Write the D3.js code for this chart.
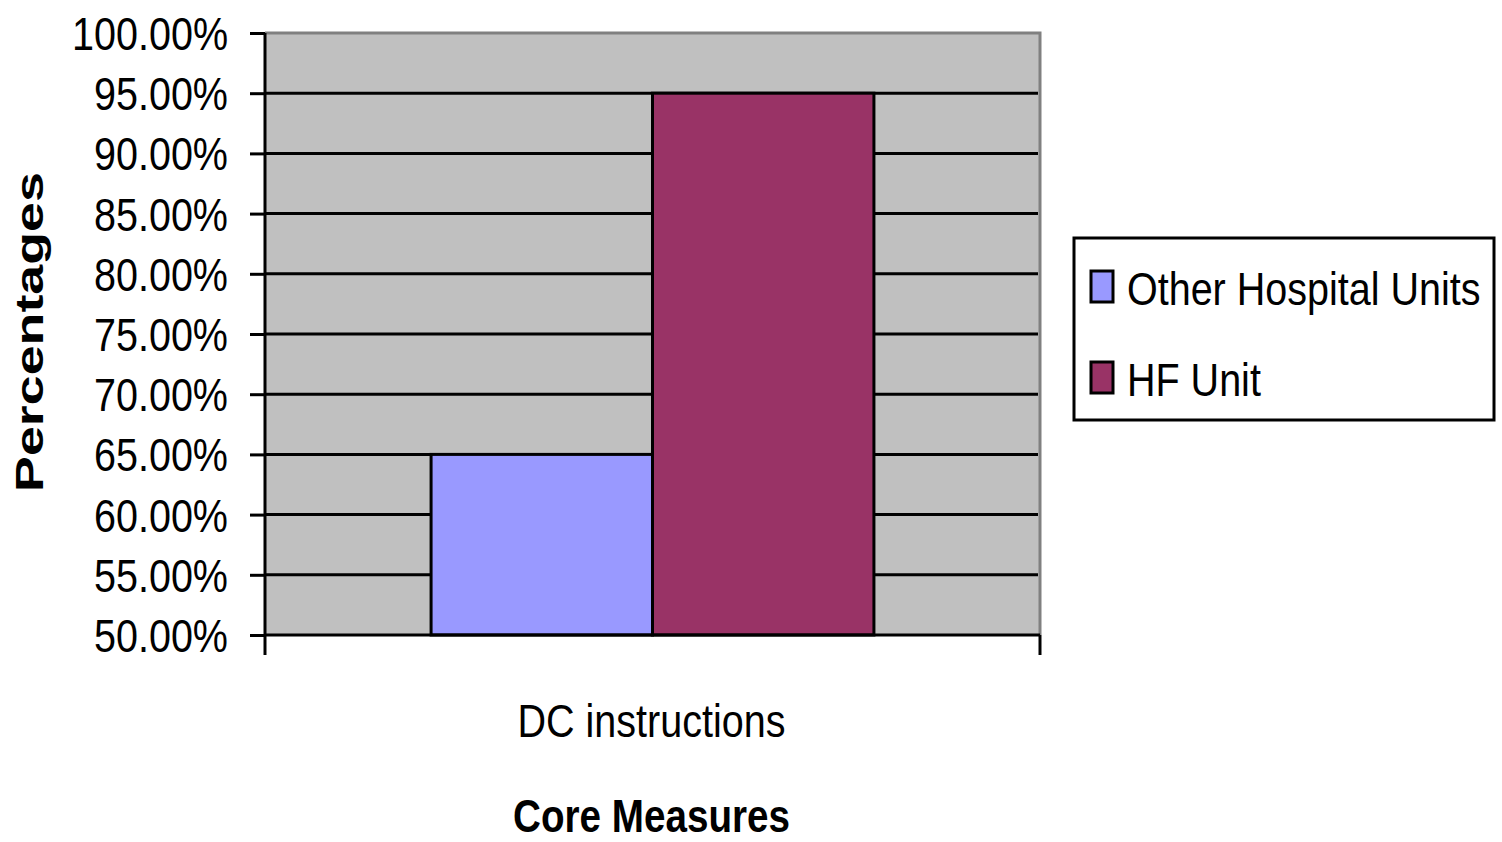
<!DOCTYPE html>
<html><head><meta charset="utf-8">
<script src="https://cdn.jsdelivr.net/npm/d3@7"></script>
<style>body{margin:0;background:#fff}svg{display:block}</style>
</head><body>
<script>
const categories = ["DC instructions"];
const seriesNames = ["Other Hospital Units", "HF Unit"];
const otherValues = [0.65];
const hfValues = [0.95];
const yTicks = [0.50,0.55,0.60,0.65,0.70,0.75,0.80,0.85,0.90,0.95,1.00];
const colors = ["#9999FF", "#993366"];

const W=1502,H=842;
const m={left:265,right:1040,top:33,bottom:635};
const FONT='"Liberation Sans Narrow","Arial Narrow","Liberation Sans",Arial,sans-serif';
const svg=d3.select("body").append("svg").attr("width",W).attr("height",H);

const x=d3.scaleBand().domain(categories).range([m.left,m.right]).paddingInner(0).paddingOuter(0);
const xs=d3.scaleBand().domain(seriesNames).range([0,x.bandwidth()]).paddingInner(0).paddingOuter(0.75);
const y=d3.scaleLinear().domain([0.5,1.0]).range([m.bottom,m.top]);

// text drawn at origin inside a scaled group: horizontal condensing factor
function scaledText(parent,tx,ty,rot,sx,str,attrs){
  const gg=parent.append("g").attr("transform",`translate(${tx},${ty}) rotate(${rot}) scale(${sx},1)`);
  const t=gg.append("text").text(str);
  Object.entries(attrs).forEach(([a,v])=>t.attr(a,v));
  return t;
}
function natural(str,attrs){
  const t=svg.append("text").text(str);Object.entries(attrs).forEach(([a,v])=>t.attr(a,v));
  const l=t.node().getComputedTextLength();t.remove();return l;
}

// plot bg
svg.append("rect").attr("x",m.left).attr("y",m.top).attr("width",m.right-m.left).attr("height",m.bottom-m.top).attr("fill","#C0C0C0");
svg.append("path").attr("d",`M${m.left},${m.top}H${m.right}V${m.bottom}`).attr("fill","none").attr("stroke","#808080").attr("stroke-width",3);
svg.append("g").selectAll("line").data(yTicks.filter(t=>t>0.5&&t<1)).join("line")
 .attr("x1",m.left).attr("x2",m.right-2).attr("y1",d=>y(d)).attr("y2",d=>y(d)).attr("stroke","#000").attr("stroke-width",3);

// bars
const data=categories.map((c,i)=>({c,vals:[otherValues[i],hfValues[i]]}));
const g=svg.append("g");
data.forEach(d=>{
  g.selectAll(null).data(d.vals.map((v,j)=>({v,j,s:seriesNames[j]}))).join("rect")
   .attr("x",e=>x(d.c)+xs(e.s)).attr("width",xs.bandwidth())
   .attr("y",e=>y(e.v)).attr("height",e=>y(0.5)-y(e.v))
   .attr("fill",e=>colors[e.j]).attr("stroke","#000").attr("stroke-width",3);
});

const reg={"font-family":FONT,"font-size":46,"fill":"#000"};
const fmt=d3.format(".2%");
const k=156/natural(fmt(1),reg);

// y axis
const yAxis=d3.axisLeft(y).tickValues(yTicks).tickSize(15).tickFormat("");
const ya=svg.append("g").attr("transform",`translate(${m.left},0)`).call(yAxis);
ya.select(".domain").attr("stroke","#000").attr("stroke-width",3).attr("d",`M0,${m.top}V${m.bottom}`);
ya.selectAll(".tick line").attr("stroke","#000").attr("stroke-width",3);
ya.selectAll(".tick").each(function(d){
  scaledText(d3.select(this),-37,0,0,k,fmt(d),{...reg,"text-anchor":"end","dy":"0.36em"});
});

// x axis
const xAxis=d3.axisBottom(x).tickSize(0).tickFormat("");
const xa=svg.append("g").attr("transform",`translate(0,${m.bottom})`).call(xAxis);
xa.select(".domain").attr("stroke","#000").attr("stroke-width",3).attr("d",`M${m.left},0H${m.right}`);
xa.selectAll(null).data([m.left,m.right]).join("line").attr("x1",d=>d).attr("x2",d=>d).attr("y1",0).attr("y2",20).attr("stroke","#000").attr("stroke-width",3);
categories.forEach(c=>{
  scaledText(xa,x(c)+x.bandwidth()/2-1,102,0,268/natural(c,reg),c,{...reg,"text-anchor":"middle"});
});

// axis titles
const bold={...reg,"font-weight":"bold"};
scaledText(svg,(m.left+m.right)/2-1,832,0,277/natural("Core Measures",bold),"Core Measures",{...bold,"text-anchor":"middle"});
const pa={"font-family":"Liberation Sans, Arial, sans-serif","font-weight":"bold","font-size":39,"fill":"#000"};
scaledText(svg,43,332,-90,320/natural("Percentages",pa),"Percentages",{...pa,"text-anchor":"middle"});

// legend
const lg=svg.append("g");
lg.append("rect").attr("x",1074).attr("y",238).attr("width",420).attr("height",182).attr("fill","#fff").attr("stroke","#000").attr("stroke-width",3);
const li=lg.selectAll(".li").data(seriesNames).join("g").attr("class","li").attr("transform",(d,i)=>`translate(1091,${271+i*91})`);
li.append("rect").attr("width",22).attr("height",31).attr("fill",(d,i)=>colors[i]).attr("stroke","#000").attr("stroke-width",3);
li.each(function(d){ scaledText(d3.select(this),36,34,0,k,d,reg); });
</script>
</body></html>
